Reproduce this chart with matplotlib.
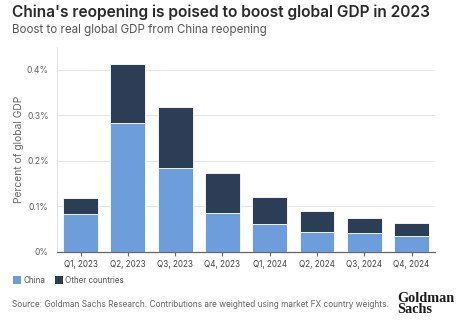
import matplotlib

matplotlib.use("Agg")
import matplotlib.pyplot as plt
from matplotlib.patches import Patch

quarters = ["Q1, 2023", "Q2, 2023", "Q3, 2023", "Q4, 2023",
            "Q1, 2024", "Q2, 2024", "Q3, 2024", "Q4, 2024"]
china = [0.083, 0.282, 0.183, 0.084, 0.060, 0.044, 0.040, 0.035]
other = [0.035, 0.131, 0.136, 0.089, 0.060, 0.046, 0.034, 0.028]
yticks = [0, 0.1, 0.2, 0.3, 0.4]
ytick_labels = ["0%", "0.1%", "0.2%", "0.3%", "0.4%"]

CHINA_C = "#6d9edb"
OTHER_C = "#2c3e55"
GREY = "#666666"

plt.rcParams["font.family"] = ["Inter", "DejaVu Sans"]

fig = plt.figure(figsize=(4.6, 3.29), dpi=100)
ax = fig.add_axes([0.124, 0.235, 0.822, 0.622])

x = range(len(quarters))
ax.bar(x, china, width=0.74, color=CHINA_C, edgecolor="white", linewidth=0.6,
       zorder=3, label="China")
ax.bar(x, other, width=0.74, bottom=china, color=OTHER_C, edgecolor="white",
       linewidth=0.6, zorder=3, label="Other countries")

ax.set_xlim(-0.5, len(quarters) - 0.5)
ax.set_ylim(0, 0.45)
ax.set_yticks(yticks)
ax.set_yticklabels(ytick_labels)
ax.set_xticks(list(x))
ax.set_xticklabels(quarters)
ax.tick_params(axis="y", length=0, labelsize=6.2, labelcolor=GREY, pad=6)
ax.tick_params(axis="x", length=3, color=GREY, labelsize=5.8, labelcolor="#444444", pad=3)
ax.grid(axis="y", color="#e6e6e6", linewidth=0.8, zorder=0)

for side in ["top", "right"]:
    ax.spines[side].set_visible(False)
ax.spines["left"].set_color("#dddddd")
ax.spines["left"].set_linewidth(0.6)
ax.spines["bottom"].set_color(GREY)
ax.spines["bottom"].set_linewidth(0.9)

ax.set_ylabel("Percent of global GDP", fontsize=7.4, color=GREY, labelpad=2)

fig.text(0.026, 0.962, "China's reopening is poised to boost global GDP in 2023",
         fontsize=11.2, fontweight="semibold", color="#2a2a2a", va="center")
fig.text(0.026, 0.908, "Boost to real global GDP from China reopening",
         fontsize=8.3, color="#555555", va="center")

handles = [Patch(facecolor=CHINA_C, label="China"),
           Patch(facecolor=OTHER_C, label="Other countries")]
fig.legend(handles=handles, loc="center left", bbox_to_anchor=(0.012, 0.148),
           ncol=2, frameon=False, fontsize=5.8, handlelength=1.0, handleheight=1.1,
           handletextpad=0.3, columnspacing=1.2, labelcolor="#555555")

fig.text(0.026, 0.073,
         "Source: Goldman Sachs Research. Contributions are weighted using market FX country weights.",
         fontsize=6.0, color="#666666", va="center")
fig.text(0.863, 0.075, "Goldman\nSachs", fontsize=10.3, fontweight="bold",
         family="Liberation Serif", color="#1a1a1a", va="center", linespacing=0.78)

fig.savefig("out.png", dpi=100)
